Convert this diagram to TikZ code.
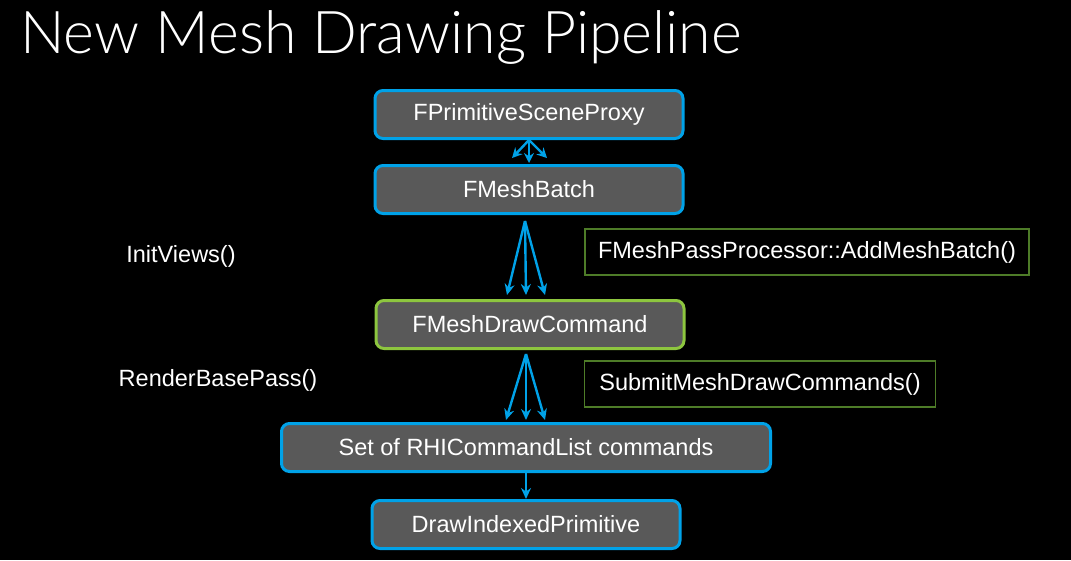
\documentclass[tikz,border=0pt]{standalone}
\usepackage{fontspec}
\setmainfont{Liberation Sans}
\newfontfamily\titlefont{Lato Light}
\usetikzlibrary{arrows.meta, positioning}
\definecolor{blue1}{RGB}{0, 162, 232}
\definecolor{green1}{RGB}{141, 198, 63}
\definecolor{green2}{RGB}{78, 124, 40}
\definecolor{gray1}{RGB}{89, 89, 89}

\begin{document}
\begin{tikzpicture}[x=1pt, y=-1pt,
  stage/.style={draw=blue1, line width=3pt, fill=gray1, rounded corners=8pt, minimum width=308pt, minimum height=48pt, text=white, font=\fontsize{23.5}{26}\selectfont},
  note/.style={draw=green2, line width=1.5pt, minimum height=46pt, text=white, font=\fontsize{23.5}{26}\selectfont},
  call/.style={text=white, font=\fontsize{23.5}{26}\selectfont},
  flow/.style={draw=blue1, line width=2.4pt, -{Stealth[length=11pt, width=10pt]}}]
  \fill[black] (0,0) rectangle (1071,560);
  \useasboundingbox (0,0) rectangle (1071,560);

  \node[anchor=base west, inner sep=0, text=white, font=\titlefont\fontsize{59}{66}\selectfont] (title) at (20,53) {New Mesh Drawing Pipeline};

  % pipeline stages
  \node[stage] (proxy) at (529,114.5) {FPrimitiveSceneProxy};
  \node[stage] (batch) at (529,189.5) {FMeshBatch};
  \node[stage, draw=green1] (drawcmd) at (530,324.5) {FMeshDrawCommand};
  \node[stage, minimum width=489pt] (rhi) at (526,447.5) {Set of RHICommandList commands};
  \node[stage] (dip) at (526,524.5) {DrawIndexedPrimitive};

  % side notes
  \node[note, minimum width=444pt] (addmb) at (807,252) {FMeshPassProcessor::AddMeshBatch()};
  \node[note, minimum width=351pt] (submit) at (760,384) {SubmitMeshDrawCommands()};
  \node[call] (initviews) at (181,256) {InitViews()};
  \node[call] (basepass) at (218,380) {RenderBasePass()};

  % arrows
  \draw[flow, -{Stealth[length=10pt, width=10pt]}] (proxy.south) -- ([xshift=-17pt, yshift=6pt]batch.north);
  \draw[flow, -{Stealth[length=10pt, width=10pt]}] (proxy.south) -- ([yshift=1pt]batch.north);
  \draw[flow, -{Stealth[length=10pt, width=10pt]}] (proxy.south) -- ([xshift=18pt, yshift=6pt]batch.north);
  \foreach \dx in {-23,-4,15}
    \draw[flow] ([xshift=-4pt, yshift=-6pt]batch.south) -- ([xshift=\dx pt, yshift=4pt]drawcmd.north);
  \foreach \dx in {-20,0,19}
    \draw[flow] ([xshift=-4pt, yshift=-4pt]drawcmd.south) -- ([xshift=\dx pt, yshift=2pt]rhi.north);
  \draw[flow] (rhi.south) -- (dip.north);
\end{tikzpicture}
\end{document}
